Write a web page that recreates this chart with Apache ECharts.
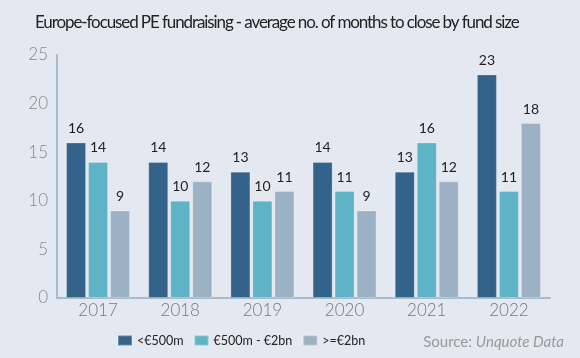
<!DOCTYPE html>
<html><head><meta charset="utf-8">
<script src="https://cdn.jsdelivr.net/npm/echarts@6/dist/echarts.min.js"></script>
<style>html,body{margin:0;padding:0;background:#e4e8f0}#c{width:580px;height:358px}</style>
</head><body><div id="c"></div>
<script>
const categories = ['2017','2018','2019','2020','2021','2022'];
const seriesNames = ['<€500m','€500m - €2bn','>=€2bn'];
const small = [16,14,13,14,13,23];
const mid = [14,10,10,11,16,11];
const large = [9,12,11,9,12,18];
const yTicks = [0,5,10,15,20,25];
const colors = ['#33628a','#5fb3c6','#9db1c4'];

// tighter tracking for the title font only
(function(){
  const P = CanvasRenderingContext2D.prototype;
  const orig = P.fillText;
  P.fillText = function(t, x, y, m){
    if (this.font && this.font.indexOf('TitleCond') >= 0 && 'letterSpacing' in this) {
      const prev = this.letterSpacing;
      this.letterSpacing = '-1.1px';
      const r = m === undefined ? orig.call(this, t, x, y) : orig.call(this, t, x, y, m);
      this.letterSpacing = prev;
      return r;
    }
    return m === undefined ? orig.call(this, t, x, y) : orig.call(this, t, x, y, m);
  };
})();

const chart = echarts.init(document.getElementById('c'));
const mk = (name, data, color) => ({
  name, type:'bar', data, barWidth:20, barGap:'10%',
  itemStyle:{color, borderColor:'rgba(255,255,255,0.25)', borderWidth:1},
  label:{show:true, position:'top', distance:7, color:'#222', fontFamily:'Lato', fontSize:14},
  emphasis:{disabled:true}
});
chart.setOption({
  backgroundColor:'#e4e8f0',
  animation:false,
  title:{text:'Europe-focused PE fundraising - average no. of months to close by fund size', left:30, top:9,
    textStyle:{fontFamily:"Lato, 'TitleCond'", fontSize:17, fontWeight:'normal', color:'#222'}},
  grid:{left:57, right:30, top:55, bottom:60},
  legend:{data:seriesNames, left:112, top:329, itemWidth:14, itemHeight:10, itemGap:10,
    textStyle:{fontFamily:'Lato', fontSize:12.5, color:'#222'}, icon:'rect'},
  graphic:[{type:'text', right:16, top:335, style:{rich:{a:{fontFamily:'Lato',fontSize:15,fill:'#999'},b:{fontFamily:'Lato',fontSize:15,fill:'#999',fontStyle:'italic'}}, text:'{a|Source: }{b|Unquote Data}'}}],
  xAxis:{type:'category', data:categories,
    axisLine:{lineStyle:{color:'#a7bccb', width:2}}, axisTick:{show:false},
    axisLabel:{fontFamily:'Lato', fontWeight:300, fontSize:17, color:'#777', margin:4}},
  yAxis:{type:'value', min:yTicks[0], max:yTicks[yTicks.length-1], interval:5,
    axisLine:{show:true, lineStyle:{color:'#a7bccb', width:2}}, axisTick:{show:false}, splitLine:{show:false},
    axisLabel:{fontFamily:'Lato', fontWeight:300, fontSize:17, color:'#888', margin:9}},
  series:[mk(seriesNames[0], small, colors[0]), mk(seriesNames[1], mid, colors[1]), mk(seriesNames[2], large, colors[2])]
});
</script></body></html>
